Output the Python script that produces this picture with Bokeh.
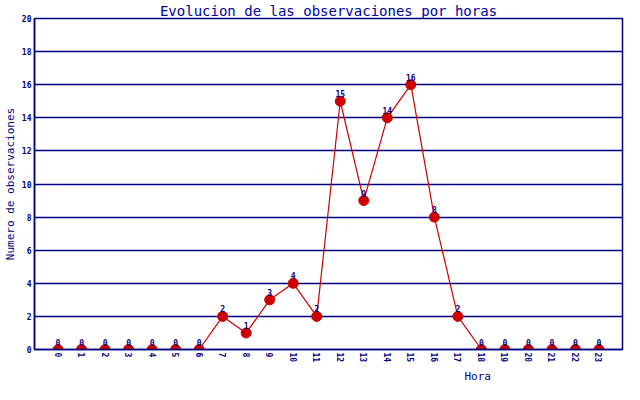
import math
from bokeh.plotting import figure
from bokeh.models import ColumnDataSource, Range1d, FixedTicker, Title
from bokeh.core.properties import value
from bokeh.embed import file_html
from bokeh.resources import INLINE

# Data
horas = list(range(24))
hora_labels = [str(h) for h in horas]
observaciones = [0, 0, 0, 0, 0, 0, 0, 2, 1, 3, 4, 2, 15, 9, 14, 16, 8, 2, 0, 0, 0, 0, 0, 0]
y_ticks = [0, 2, 4, 6, 8, 10, 12, 14, 16, 18, 20]

NAVY = "#000080"
RED = "#cc0000"
MONO = "DejaVu Sans Mono"

src = ColumnDataSource(dict(x=horas, y=observaciones, lbl=[str(v) for v in observaciones]))

p = figure(width=624, height=384, output_backend="svg", toolbar_location=None,
           x_range=Range1d(-1, 24), y_range=Range1d(0, 20),
           min_border_left=2, min_border_right=2, min_border_top=2, min_border_bottom=2)

p.title.text = "Evolucion de las observaciones por horas"
p.title.text_font = MONO
p.title.text_font_size = "14px"
p.title.text_font_style = "normal"
p.title.text_color = "#0000a0"
p.title.align = "center"
p.title.standoff = 0
p.title.offset = 10

p.outline_line_color = NAVY
p.outline_line_width = 1.5
p.background_fill_color = "white"
p.border_fill_color = "white"

p.xgrid.grid_line_color = None
p.ygrid.grid_line_color = NAVY
p.ygrid.grid_line_width = 1.3
p.ygrid.ticker = FixedTicker(ticks=y_ticks)

p.yaxis.ticker = FixedTicker(ticks=y_ticks)
p.xaxis.ticker = FixedTicker(ticks=horas)
p.xaxis.major_label_overrides = {h: l for h, l in zip(horas, hora_labels)}
p.xaxis.major_label_orientation = -math.pi / 2

for ax in (p.xaxis, p.yaxis):
    ax.axis_line_color = NAVY
    ax.axis_line_width = 1.5
    ax.major_tick_line_color = None
    ax.minor_tick_line_color = None
    ax.major_tick_out = 0
    ax.major_tick_in = 0
    ax.minor_tick_out = 0
    ax.major_label_text_font = MONO
    ax.major_label_text_font_size = "8px"
    ax.major_label_text_font_style = "bold"
    ax.major_label_text_color = NAVY
    ax.axis_label_text_font = MONO
    ax.axis_label_text_font_size = "11px"
    ax.axis_label_text_font_style = "normal"
    ax.axis_label_text_color = NAVY

p.xaxis.major_label_standoff = 3
p.yaxis.major_label_standoff = 3
p.yaxis.axis_label = "Numero de observaciones"
p.yaxis.axis_label_standoff = 2

p.line("x", "y", source=src, line_color=RED, line_width=1.2)
p.scatter("x", "y", source=src, size=10, fill_color=RED, line_color=RED)
p.text("x", "y", text="lbl", source=src, text_font=value(MONO), text_font_size="8px",
       text_font_style="bold", text_color=NAVY, text_align="center",
       text_baseline="bottom", y_offset=-4)

hora = Title(text="Hora", align="left", offset=430, standoff=4,
             text_font=MONO, text_font_size="11px", text_font_style="normal",
             text_color=NAVY)
p.add_layout(hora, "below")

open("out.html", "w").write(file_html(p, INLINE))
